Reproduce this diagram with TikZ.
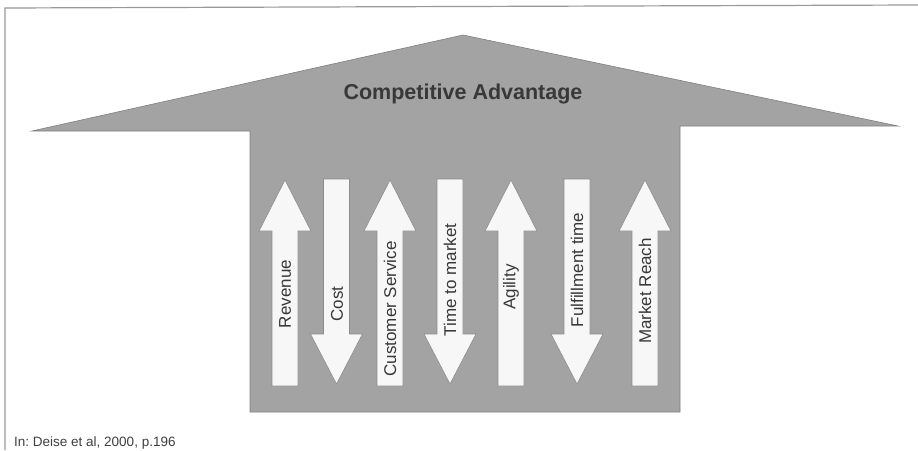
\documentclass[tikz,border=0pt]{standalone}
\usepackage{fontspec}
\setmainfont{Liberation Sans}
\frenchspacing
\begin{document}
\begin{tikzpicture}[x=1pt,y=-1pt,
  frame/.style={draw=black!40,line width=1.2pt},
  bigarrow/.style={fill=black!36,draw=black!50,line width=0.6pt},
  barrow/.style={fill=white!97!black,draw=black!45,line width=0.6pt},
  lbl/.style={rotate=90,text=black!78,font=\fontsize{17}{20}\selectfont,inner sep=0pt},
  title/.style={text=black!78,font=\bfseries\fontsize{21.5}{24}\selectfont,inner sep=0pt},
  note/.style={text=black!75,font=\fontsize{13.5}{16}\selectfont,inner sep=0pt}]
\useasboundingbox[fill=white] (0,0) rectangle (918,450);
% page frame
\draw[frame] (5,450) -- (5,8) -- (918,5);
% overall arrow: wide head over a tall shaft
\draw[bigarrow] (32,131) -- (463,35) -- (898,126) -- (680,126) -- (680,412)
  -- (250,412) -- (250,131) -- cycle;
\node[title,anchor=base] (adv) at (463,99) {Competitive Advantage};
% factor arrows pointing up: centre x
\foreach \c in {285,390,511,645}
  \draw[barrow] (\c,180) -- (\c+26,231) -- (\c+13,231) -- (\c+13,386)
    -- (\c-13,386) -- (\c-13,231) -- (\c-26,231) -- cycle;
% factor arrows pointing down: centre x
\foreach \c in {336.5,450,577}
  \draw[barrow] (\c,384) -- (\c+26,334) -- (\c+13,334) -- (\c+13,179)
    -- (\c-13,179) -- (\c-13,334) -- (\c-26,334) -- cycle;
% labels
\node[lbl] (rev) at (285,294) {Revenue};
\node[lbl] (cost) at (337,304) {Cost};
\node[lbl] (cs) at (390,309) {Customer Service};
\node[lbl] (ttm) at (450,280) {Time to market};
\node[lbl] (agi) at (511,287) {Agility};
\node[lbl] (ful) at (577,270) {Fulfillment time};
\node[lbl] (mr) at (645,291) {Market Reach};
\node[note,anchor=base west] (src) at (14,446) {In: Deise et al, 2000, p.196};
\end{tikzpicture}
\end{document}
